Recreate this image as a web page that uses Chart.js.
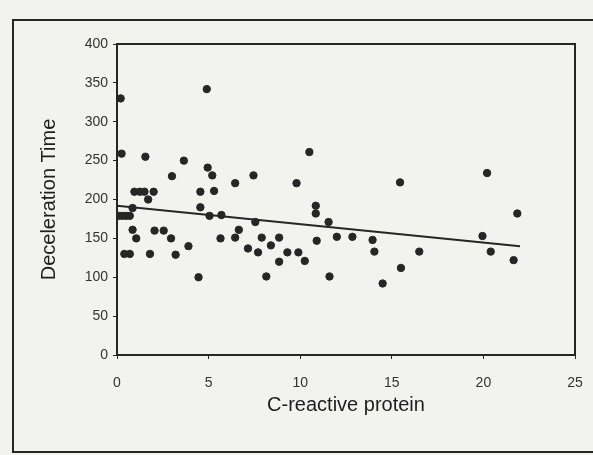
<!DOCTYPE html>
<html>
<head>
<meta charset="utf-8">
<script src="https://cdn.jsdelivr.net/npm/chart.js@4"></script>
<style>
  html, body { margin: 0; padding: 0; background: #f2f2ef; }
  #wrap { position: relative; width: 593px; height: 455px; }
  canvas { display: block; }
</style>
</head>
<body>
<div id="wrap"><canvas id="crpChart" width="593" height="455"></canvas></div>
<script>
// C-reactive protein (x) vs deceleration time (y)
const crpValues = [
  0.2, 4.9, 0.25, 1.55, 3.65, 4.95, 5.2, 3.0, 4.55, 5.3,
  0.95, 1.25, 1.5, 2.0, 1.7, 0.85, 4.55, 5.05, 5.7, 0.1,
  0.3, 0.5, 0.7, 0.85, 1.05, 2.05, 2.55, 2.95, 3.9, 5.65,
  0.4, 0.7, 1.8, 3.2, 4.45, 10.5, 7.45, 6.45, 9.8, 10.85,
  10.85, 11.55, 7.55, 6.65, 6.45, 7.9, 8.85, 8.4, 7.15, 7.7,
  9.3, 9.9, 8.85, 10.25, 8.15, 10.9, 11.6, 12.0, 12.85, 13.95,
  14.05, 16.5, 15.5, 14.5, 15.45, 20.2, 21.85, 19.95, 20.4, 21.65
];
const decelTimes = [
  330, 342, 259, 255, 250, 241, 231, 230, 210, 211,
  210, 210, 210, 210, 200, 189, 190, 179, 180, 179,
  179, 179, 179, 161, 150, 160, 160, 150, 140, 150,
  130, 130, 130, 129, 100, 261, 231, 221, 221, 192,
  182, 171, 171, 161, 151, 151, 151, 141, 137, 132,
  132, 132, 120, 121, 101, 147, 101, 152, 152, 148,
  133, 133, 112, 92, 222, 234, 182, 153, 133, 122
];

// regression line end points
const fitX = [0, 22];
const fitY = [192, 140];

const xTicks = [0, 5, 10, 15, 20, 25];
const yTicks = [0, 50, 100, 150, 200, 250, 300, 350, 400];

const ink = "#262626";

// frame round the plot and the outer box of the scan
const framePlugin = {
  id: "frame",
  afterDraw(chart) {
    const { ctx, chartArea } = chart;
    ctx.save();
    ctx.strokeStyle = ink;
    ctx.lineWidth = 2;
    ctx.beginPath();
    ctx.moveTo(chartArea.left, chartArea.top);
    ctx.lineTo(chartArea.right, chartArea.top);
    ctx.lineTo(chartArea.right, chartArea.bottom);
    ctx.stroke();
    // outer box, open to the right
    ctx.beginPath();
    ctx.moveTo(600, 20);
    ctx.lineTo(13, 20);
    ctx.lineTo(13, 452);
    ctx.lineTo(600, 452);
    ctx.stroke();
    ctx.restore();
  }
};

const ctx = document.getElementById("crpChart").getContext("2d");
new Chart(ctx, {
  type: "scatter",
  data: {
    datasets: [
      {
        label: "Patients",
        data: crpValues.map((x, i) => ({ x: x, y: decelTimes[i] })),
        backgroundColor: ink,
        borderColor: ink,
        pointRadius: 3.7,
        pointHoverRadius: 3.7
      },
      {
        type: "line",
        label: "Fit",
        data: fitX.map((x, i) => ({ x: x, y: fitY[i] })),
        borderColor: ink,
        borderWidth: 2,
        pointRadius: 0,
        fill: false
      }
    ]
  },
  options: {
    responsive: false,
    animation: false,
    layout: { padding: { left: 0, right: 18, top: 44, bottom: 0 } },
    plugins: {
      legend: { display: false },
      tooltip: { enabled: false }
    },
    scales: {
      x: {
        type: "linear",
        min: 0,
        max: 25,
        afterFit(scale) {
          scale.height = 100;
          scale.paddingRight = 6; // keep the label padding from squeezing the plot
        },
        afterBuildTicks(scale) { scale.ticks = xTicks.map(v => ({ value: v })); },
        grid: { drawOnChartArea: false, tickLength: 4, color: ink },
        border: { color: ink, width: 2 },
        ticks: {
          color: "#333",
          padding: 16,
          maxRotation: 0,
          font: { family: "Liberation Sans, Arial, sans-serif", size: 14 }
        },
        title: {
          display: true,
          text: "C-reactive protein",
          color: "#1e1e1e",
          padding: { top: 0, bottom: 38 },
          font: { family: "Liberation Sans, Arial, sans-serif", size: 20 }
        }
      },
      y: {
        min: 0,
        max: 400,
        afterFit(scale) { scale.width = 117; },
        afterBuildTicks(scale) { scale.ticks = yTicks.map(v => ({ value: v })); },
        grid: { drawOnChartArea: false, tickLength: 4, color: ink },
        border: { color: ink, width: 2 },
        ticks: {
          color: "#333",
          padding: 5,
          font: { family: "Liberation Sans, Arial, sans-serif", size: 14 }
        },
        title: {
          display: true,
          text: "Deceleration Time",
          color: "#1e1e1e",
          padding: { top: 37, bottom: 0 },
          font: { family: "Liberation Sans, Arial, sans-serif", size: 20 }
        }
      }
    }
  },
  plugins: [framePlugin]
});
</script>
</body>
</html>
